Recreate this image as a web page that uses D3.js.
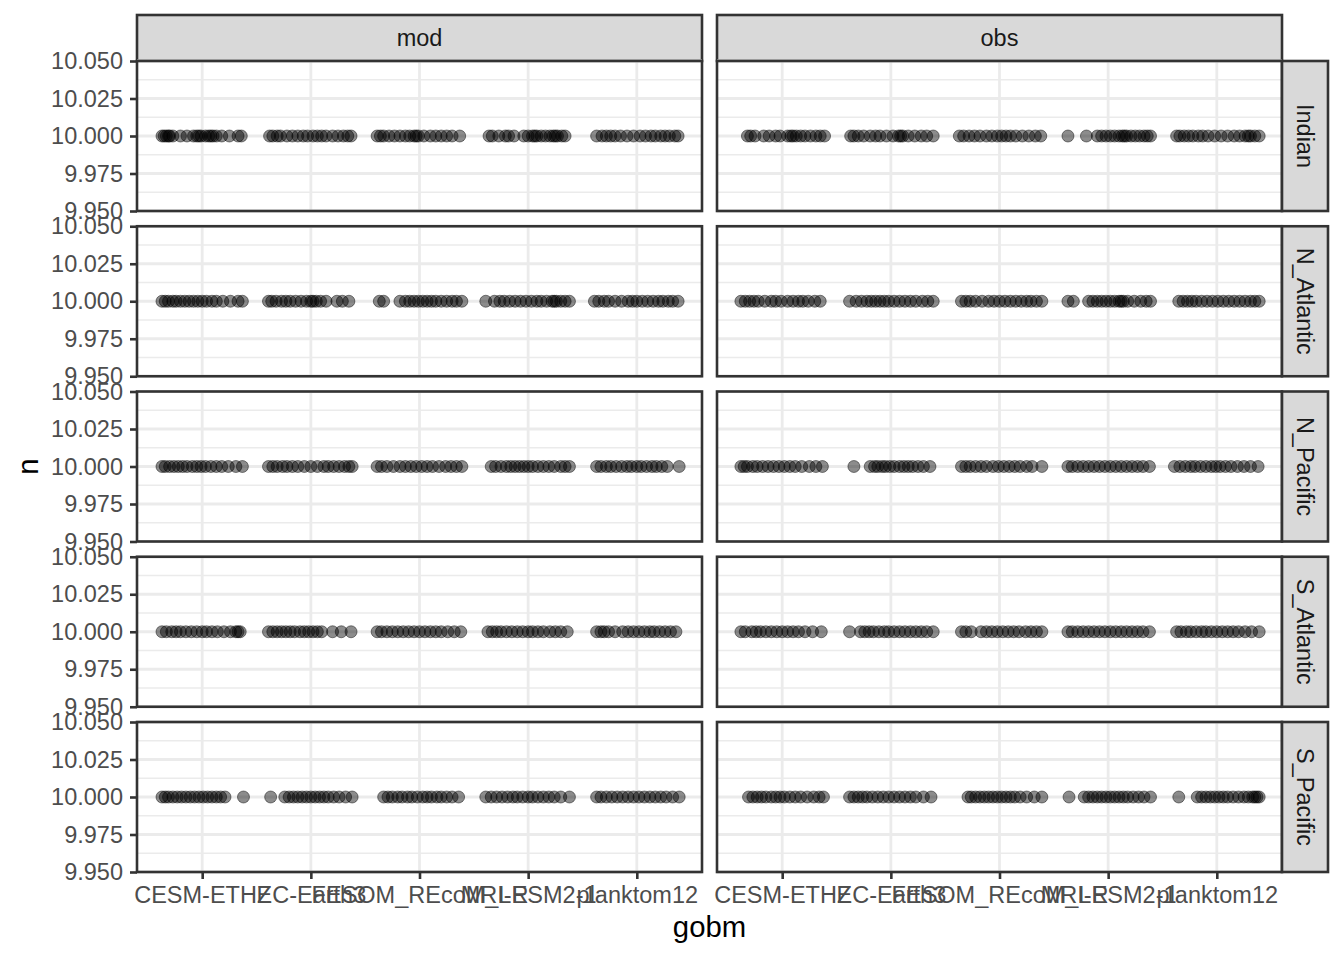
<!DOCTYPE html>
<html><head><meta charset="utf-8">
<script src="https://cdn.jsdelivr.net/npm/d3@7"></script>
<style>
body{margin:0;background:#fff}
svg{display:block}
text{font-family:"Liberation Sans",Arial,Helvetica,sans-serif}
</style>
</head><body>
<svg id="chart" width="1344" height="960"></svg>
<script>
// ---- data ----
const gobms = ["CESM-ETHZ","EC-Earth3","FESOM_REcoM_LR","MRI-ESM2-1","planktom12"];
const sets = ["mod","obs"];
const regions = ["Indian","N_Atlantic","N_Pacific","S_Atlantic","S_Pacific"];
const yTicks = [9.95, 9.975, 10.0, 10.025, 10.05];
const nValue = 10; // every point has n = 10

// horizontal jitter offsets (in category units) per gobm
const jitterIndianMod = [
 [-0.37,-0.35,-0.33,-0.31,-0.30,-0.27,-0.2,-0.14,-0.08,-0.05,-0.03,-0.01,0.03,0.06,0.08,0.1,0.13,0.18,0.25,0.33,0.36],
 [-0.38,-0.35,-0.31,-0.28,-0.22,-0.17,-0.12,-0.07,-0.03,0.02,0.06,0.1,0.14,0.2,0.25,0.3,0.34,0.37],
 [-0.39,-0.36,-0.33,-0.28,-0.23,-0.18,-0.13,-0.09,-0.05,-0.03,-0.01,0.04,0.1,0.15,0.2,0.25,0.3,0.37],
 [-0.36,-0.33,-0.27,-0.21,-0.18,-0.13,-0.04,0.0,0.04,0.06,0.08,0.12,0.16,0.2,0.23,0.25,0.27,0.31,0.34],
 [-0.37,-0.32,-0.28,-0.24,-0.2,-0.15,-0.09,-0.03,0.03,0.08,0.13,0.17,0.22,0.26,0.3,0.35,0.38]];
const jitterIndianObs = [
 [-0.32,-0.29,-0.25,-0.17,-0.12,-0.06,-0.02,0.05,0.08,0.1,0.13,0.17,0.21,0.26,0.31,0.35,0.39],
 [-0.37,-0.34,-0.3,-0.25,-0.19,-0.14,-0.1,-0.04,0.02,0.07,0.09,0.11,0.16,0.22,0.28,0.33,0.39],
 [-0.37,-0.33,-0.28,-0.23,-0.18,-0.12,-0.07,-0.02,0.02,0.06,0.1,0.15,0.21,0.27,0.33,0.38],
 [-0.37,-0.2,-0.1,-0.06,-0.02,0.02,0.06,0.1,0.13,0.15,0.17,0.21,0.25,0.29,0.33,0.36,0.39],
 [-0.37,-0.34,-0.3,-0.26,-0.22,-0.17,-0.13,-0.08,-0.02,0.04,0.1,0.16,0.21,0.26,0.29,0.31,0.35,0.39]];
const jitterNAtlanticMod = [
 [-0.37,-0.34,-0.31,-0.27,-0.24,-0.2,-0.16,-0.12,-0.08,-0.04,0.0,0.04,0.09,0.13,0.19,0.26,0.33,0.37],
 [-0.39,-0.36,-0.32,-0.27,-0.23,-0.19,-0.14,-0.09,-0.04,0.0,0.02,0.05,0.09,0.14,0.24,0.29,0.35],
 [-0.37,-0.33,-0.18,-0.13,-0.09,-0.05,-0.01,0.03,0.07,0.11,0.15,0.2,0.25,0.3,0.34,0.39],
 [-0.39,-0.31,-0.26,-0.22,-0.17,-0.12,-0.07,-0.02,0.03,0.08,0.12,0.17,0.22,0.24,0.26,0.3,0.34,0.38],
 [-0.39,-0.35,-0.3,-0.26,-0.2,-0.14,-0.08,-0.04,0.0,0.05,0.1,0.15,0.2,0.24,0.29,0.33,0.38]];
const jitterNAtlanticObs = [
 [-0.38,-0.34,-0.3,-0.26,-0.22,-0.16,-0.1,-0.06,-0.01,0.05,0.1,0.15,0.19,0.24,0.3,0.35],
 [-0.38,-0.32,-0.27,-0.22,-0.18,-0.14,-0.1,-0.06,-0.02,0.03,0.08,0.13,0.18,0.23,0.29,0.34,0.39],
 [-0.35,-0.31,-0.27,-0.22,-0.16,-0.1,-0.05,0.0,0.05,0.1,0.15,0.2,0.25,0.29,0.34,0.39],
 [-0.37,-0.32,-0.18,-0.14,-0.1,-0.06,-0.02,0.02,0.06,0.1,0.12,0.14,0.18,0.24,0.3,0.35,0.39],
 [-0.35,-0.31,-0.27,-0.23,-0.19,-0.14,-0.09,-0.04,0.01,0.06,0.11,0.16,0.21,0.26,0.31,0.35,0.39]];
const jitterNPacificMod = [
 [-0.37,-0.34,-0.3,-0.26,-0.22,-0.18,-0.14,-0.09,-0.05,-0.01,0.03,0.08,0.13,0.18,0.24,0.31,0.37],
 [-0.39,-0.35,-0.31,-0.26,-0.22,-0.17,-0.12,-0.06,0.0,0.06,0.12,0.16,0.21,0.26,0.31,0.35,0.38],
 [-0.39,-0.35,-0.3,-0.24,-0.18,-0.13,-0.08,-0.03,0.02,0.07,0.12,0.18,0.24,0.29,0.34,0.39],
 [-0.34,-0.3,-0.25,-0.2,-0.16,-0.12,-0.08,-0.04,0.0,0.04,0.09,0.14,0.19,0.24,0.3,0.34,0.38],
 [-0.37,-0.33,-0.28,-0.24,-0.19,-0.14,-0.09,-0.05,0.0,0.04,0.09,0.14,0.18,0.23,0.28,0.39]];
const jitterNPacificObs = [
 [-0.38,-0.35,-0.32,-0.27,-0.23,-0.18,-0.13,-0.08,-0.03,0.02,0.07,0.12,0.18,0.25,0.31,0.37],
 [-0.34,-0.19,-0.15,-0.12,-0.08,-0.05,-0.01,0.03,0.08,0.12,0.16,0.2,0.25,0.3,0.36],
 [-0.35,-0.31,-0.27,-0.22,-0.17,-0.12,-0.06,-0.01,0.04,0.09,0.14,0.19,0.25,0.3,0.39],
 [-0.37,-0.33,-0.28,-0.23,-0.18,-0.13,-0.08,-0.03,0.02,0.07,0.12,0.17,0.22,0.27,0.32,0.38],
 [-0.39,-0.34,-0.29,-0.24,-0.2,-0.15,-0.1,-0.05,-0.01,0.03,0.08,0.13,0.19,0.25,0.31,0.38]];
const jitterSAtlanticMod = [
 [-0.37,-0.33,-0.28,-0.24,-0.2,-0.15,-0.1,-0.05,0.0,0.04,0.09,0.14,0.2,0.26,0.31,0.33,0.35],
 [-0.39,-0.35,-0.31,-0.27,-0.23,-0.19,-0.15,-0.1,-0.06,-0.02,0.02,0.06,0.1,0.2,0.28,0.37],
 [-0.39,-0.35,-0.3,-0.25,-0.2,-0.15,-0.1,-0.05,0.0,0.05,0.1,0.15,0.2,0.26,0.32,0.38],
 [-0.37,-0.33,-0.29,-0.25,-0.2,-0.15,-0.1,-0.05,0.0,0.04,0.09,0.14,0.2,0.25,0.3,0.36],
 [-0.37,-0.33,-0.3,-0.26,-0.2,-0.13,-0.08,-0.03,0.02,0.07,0.12,0.16,0.21,0.26,0.31,0.36]];
const jitterSAtlanticObs = [
 [-0.38,-0.34,-0.28,-0.24,-0.2,-0.15,-0.1,-0.05,0.0,0.05,0.1,0.15,0.21,0.28,0.36],
 [-0.38,-0.28,-0.24,-0.2,-0.16,-0.11,-0.06,-0.02,0.03,0.08,0.13,0.18,0.23,0.28,0.33,0.39],
 [-0.35,-0.31,-0.26,-0.17,-0.12,-0.07,-0.02,0.03,0.08,0.13,0.18,0.24,0.29,0.34,0.39],
 [-0.37,-0.33,-0.28,-0.23,-0.18,-0.13,-0.08,-0.03,0.02,0.07,0.12,0.17,0.22,0.27,0.32,0.38],
 [-0.37,-0.33,-0.28,-0.24,-0.19,-0.14,-0.1,-0.05,0.0,0.05,0.1,0.15,0.2,0.26,0.32,0.39]];
const jitterSPacificMod = [
 [-0.37,-0.34,-0.31,-0.27,-0.23,-0.19,-0.15,-0.11,-0.07,-0.03,0.01,0.05,0.09,0.13,0.17,0.21,0.38],
 [-0.37,-0.24,-0.2,-0.16,-0.12,-0.08,-0.04,0.0,0.04,0.08,0.12,0.16,0.21,0.26,0.32,0.38],
 [-0.33,-0.29,-0.25,-0.2,-0.16,-0.11,-0.07,-0.02,0.03,0.07,0.11,0.16,0.2,0.25,0.3,0.36],
 [-0.39,-0.34,-0.29,-0.24,-0.19,-0.14,-0.1,-0.05,0.0,0.04,0.09,0.14,0.19,0.24,0.3,0.38],
 [-0.37,-0.33,-0.28,-0.23,-0.18,-0.13,-0.08,-0.03,0.02,0.07,0.12,0.17,0.22,0.27,0.33,0.39]];
const jitterSPacificObs = [
 [-0.31,-0.27,-0.23,-0.19,-0.15,-0.1,-0.06,-0.02,0.02,0.07,0.12,0.17,0.23,0.29,0.34,0.38],
 [-0.38,-0.34,-0.3,-0.26,-0.22,-0.17,-0.12,-0.07,-0.02,0.03,0.08,0.13,0.18,0.23,0.3,0.37],
 [-0.29,-0.26,-0.22,-0.18,-0.14,-0.1,-0.06,-0.02,0.02,0.06,0.1,0.14,0.19,0.25,0.32,0.39],
 [-0.36,-0.22,-0.18,-0.14,-0.1,-0.06,-0.02,0.02,0.06,0.1,0.14,0.18,0.23,0.28,0.33,0.39],
 [-0.35,-0.18,-0.14,-0.1,-0.06,-0.02,0.02,0.06,0.1,0.15,0.2,0.25,0.29,0.33,0.35,0.37,0.39]];

const jitterTable = {
  Indian:     {mod: jitterIndianMod,     obs: jitterIndianObs},
  N_Atlantic: {mod: jitterNAtlanticMod,  obs: jitterNAtlanticObs},
  N_Pacific:  {mod: jitterNPacificMod,   obs: jitterNPacificObs},
  S_Atlantic: {mod: jitterSAtlanticMod,  obs: jitterSAtlanticObs},
  S_Pacific:  {mod: jitterSPacificMod,   obs: jitterSPacificObs}
};

// ---- layout ----
const svg = d3.select("#chart");
const panelLeft0 = 137, panelW = 565, colGap = 15;
const panelTop0 = 61, panelH = 150, rowGap = 15.25;
const stripH = 46, stripW = 46;
const fs = 23.5, titleFs = 29.3;
const colX = i => panelLeft0 + i * (panelW + colGap);
const rowY = j => panelTop0 + j * (panelH + rowGap);
const lineW = 2.6;

const minorTicks = d3.range(yTicks.length - 1).map(i => (yTicks[i] + yTicks[i+1]) / 2);

sets.forEach((set, ci) => {
  const x0 = colX(ci);
  const xScale = d3.scalePoint().domain(gobms).range([x0, x0 + panelW]).padding(0.6);
  const step = xScale.step();

  // top strip
  svg.append("rect").attr("x", x0).attr("y", panelTop0 - stripH).attr("width", panelW).attr("height", stripH)
    .attr("fill", "#D9D9D9").attr("stroke", "#333333").attr("stroke-width", lineW);
  svg.append("text").attr("x", x0 + panelW / 2).attr("y", panelTop0 - stripH / 2).attr("dy", "0.35em")
    .attr("text-anchor", "middle").attr("font-size", fs).attr("fill", "#1A1A1A").text(set);

  regions.forEach((reg, ri) => {
    const y0 = rowY(ri);
    const yScale = d3.scaleLinear().domain([9.95, 10.05]).range([y0 + panelH, y0]);
    const g = svg.append("g");
    g.append("rect").attr("x", x0).attr("y", y0).attr("width", panelW).attr("height", panelH).attr("fill", "#fff");
    // minor grid
    g.selectAll(".ymin").data(minorTicks).enter().append("line")
      .attr("x1", x0).attr("x2", x0 + panelW).attr("y1", d => yScale(d)).attr("y2", d => yScale(d))
      .attr("stroke", "#EBEBEB").attr("stroke-width", 1.4);
    // major grid
    g.selectAll(".ymaj").data(yTicks).enter().append("line")
      .attr("x1", x0).attr("x2", x0 + panelW).attr("y1", d => yScale(d)).attr("y2", d => yScale(d))
      .attr("stroke", "#EBEBEB").attr("stroke-width", 2.8);
    g.selectAll(".xmaj").data(gobms).enter().append("line")
      .attr("x1", d => xScale(d)).attr("x2", d => xScale(d)).attr("y1", y0).attr("y2", y0 + panelH)
      .attr("stroke", "#EBEBEB").attr("stroke-width", 2.8);

    // points
    const pts = [];
    jitterTable[reg][set].forEach((offs, gi) => {
      offs.forEach(o => pts.push({gobm: gobms[gi], off: o, n: nValue}));
    });
    g.selectAll("circle").data(pts).enter().append("circle")
      .attr("cx", d => xScale(d.gobm) + d.off * step)
      .attr("cy", d => yScale(d.n))
      .attr("r", 6)
      .attr("fill", "#000").attr("fill-opacity", 0.45)
      .attr("stroke", "#000").attr("stroke-opacity", 0.45).attr("stroke-width", 1);

    // border
    g.append("rect").attr("x", x0).attr("y", y0).attr("width", panelW).attr("height", panelH)
      .attr("fill", "none").attr("stroke", "#333333").attr("stroke-width", lineW);

    // right strips
    if (ci === sets.length - 1) {
      const sx = x0 + panelW;
      svg.append("rect").attr("x", sx).attr("y", y0).attr("width", stripW).attr("height", panelH)
        .attr("fill", "#D9D9D9").attr("stroke", "#333333").attr("stroke-width", lineW);
      svg.append("text").attr("transform", `translate(${sx + stripW / 2},${y0 + panelH / 2}) rotate(90)`)
        .attr("dy", "0.35em").attr("text-anchor", "middle").attr("font-size", fs).attr("fill", "#1A1A1A").text(reg);
    }

    // left axis
    if (ci === 0) {
      const ax = svg.append("g").attr("transform", `translate(${x0},0)`)
        .call(d3.axisLeft(yScale).tickValues(yTicks).tickFormat(d3.format(".3f")).tickSize(7).tickPadding(7));
      ax.select(".domain").remove();
      ax.selectAll(".tick line").attr("stroke", "#333333").attr("stroke-width", lineW);
      ax.selectAll(".tick text").attr("font-size", fs).attr("fill", "#4D4D4D")
        .attr("font-family", '"Liberation Sans",Arial,sans-serif');
    }
    // bottom axis
    if (ri === regions.length - 1) {
      const ax = svg.append("g").attr("transform", `translate(0,${y0 + panelH})`)
        .call(d3.axisBottom(xScale).tickSize(7).tickPadding(7));
      ax.select(".domain").remove();
      ax.selectAll(".tick line").attr("stroke", "#333333").attr("stroke-width", lineW);
      ax.selectAll(".tick text").attr("font-size", fs).attr("fill", "#4D4D4D")
        .attr("font-family", '"Liberation Sans",Arial,sans-serif');
    }
  });
});

// axis titles
const plotMidX = (colX(0) + colX(1) + panelW) / 2;
const plotMidY = (rowY(0) + rowY(regions.length - 1) + panelH) / 2;
svg.append("text").attr("x", plotMidX).attr("y", 937).attr("text-anchor", "middle")
  .attr("font-size", titleFs).attr("fill", "#000").text("gobm");
svg.append("text").attr("transform", `translate(38,${plotMidY}) rotate(-90)`).attr("text-anchor", "middle")
  .attr("font-size", titleFs).attr("fill", "#000").text("n");
</script>
</body></html>
